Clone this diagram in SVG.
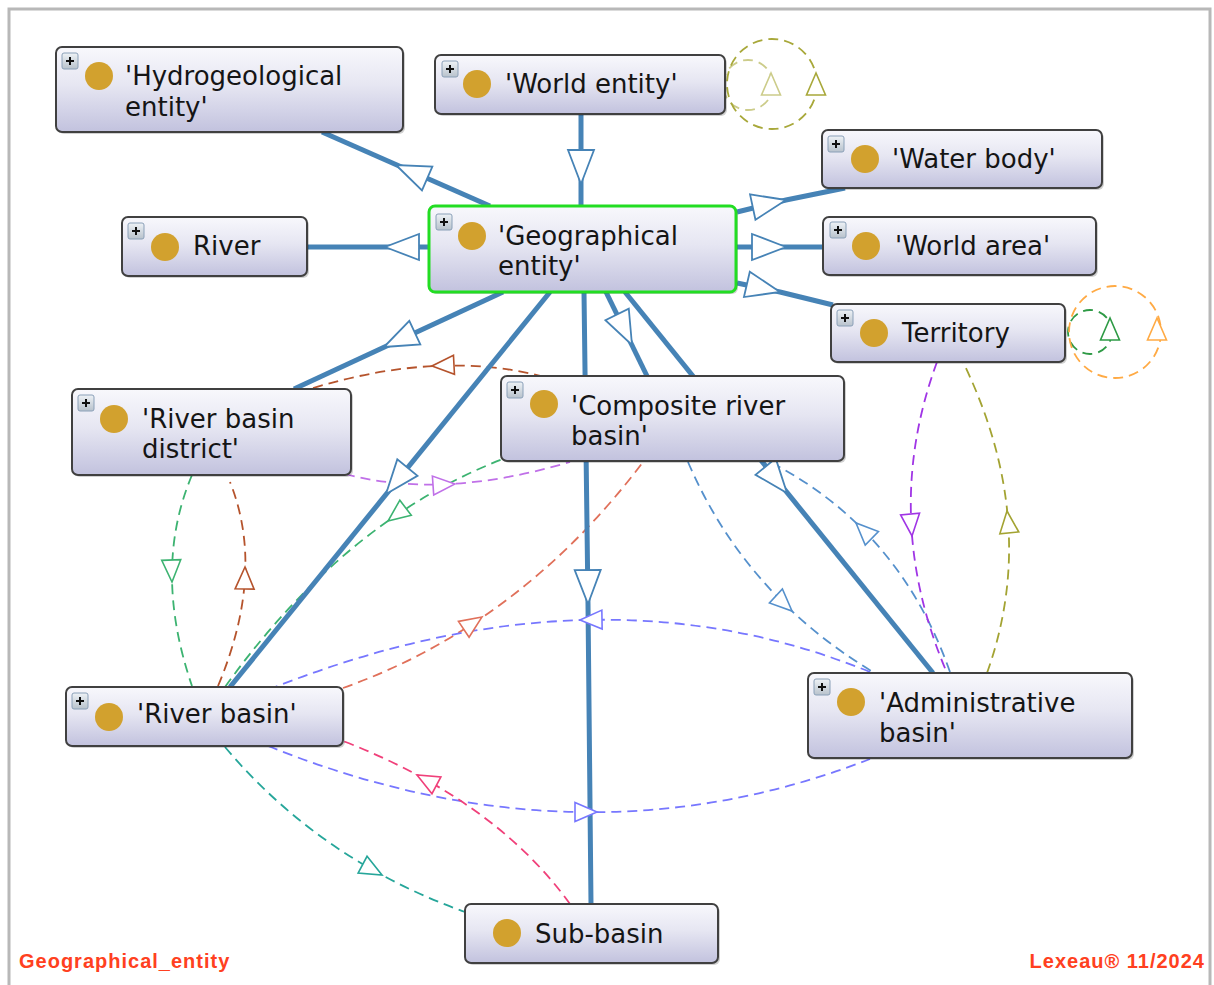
<svg xmlns="http://www.w3.org/2000/svg" xmlns:xlink="http://www.w3.org/1999/xlink" width="1214" height="985" viewBox="0 0 1214 985">
<style>
.box{fill:url(#gb);stroke:#404040;stroke-width:2}
.sel{fill:url(#gb);stroke:#22dd22;stroke-width:3}
.sh{fill:#000;opacity:.18}
.dot{fill:#d2a12e}
.lbl{font-family:"DejaVu Sans",Verdana,sans-serif;font-size:26px;fill:#151515}
.plus rect{fill:url(#gp);stroke:#8aa0b8;stroke-width:1}
.plus path{stroke:#111;stroke-width:2;fill:none}
.s{stroke:#4683b6;stroke-width:5;fill:none}
.d{fill:none;stroke-width:1.8;stroke-dasharray:10 6}
.ah{fill:#fff;stroke-width:1.6}
.ahs{fill:#fff;stroke:#4683b6;stroke-width:1.8}
.foot{font-family:"Liberation Sans",Arial,sans-serif;font-weight:bold;font-size:20px;fill:#ff4020;letter-spacing:1px}
</style>
<defs>
<linearGradient id="gb" x1="0" y1="0" x2="0" y2="1">
<stop offset="0" stop-color="#f8f8fc"/>
<stop offset="0.45" stop-color="#e6e6f2"/>
<stop offset="1" stop-color="#c2c2de"/>
</linearGradient>
<linearGradient id="gp" x1="0" y1="0" x2="0" y2="1">
<stop offset="0" stop-color="#eef2f6"/>
<stop offset="1" stop-color="#b8c2cc"/>
</linearGradient>
<path id="ts" d="M0,0 L-34,-13 L-34,13 Z"/>
<path id="td" d="M0,0 L-22,-9.5 L-22,9.5 Z"/>
</defs>
<rect x="0" y="0" width="1214" height="985" fill="#fff"/>
<rect x="9" y="9" width="1201" height="1000" fill="none" stroke="#b8b8b8" stroke-width="3"/>

<g id="connectors">
<!-- self loops -->
<circle class="d" cx="748" cy="85" r="25" stroke="#cccc8a"/>
<circle class="d" cx="772" cy="84" r="45" stroke="#a8a83a"/>
<circle class="d" cx="1090" cy="332" r="22" stroke="#2e9a45"/>
<circle class="d" cx="1115" cy="332" r="46" stroke="#ffaa44"/>
<!-- dashed property edges -->
<path class="d" stroke="#b5532c" d="M313 388 Q441 349.5 545 377"/>
<path class="d" stroke="#c070e8" d="M345 474 Q442 500 570 462"/>
<path class="d" stroke="#3cb371" d="M225 687 Q345 520 503 459"/>
<path class="d" stroke="#3cb371" d="M192 475 Q152 569.5 192 686"/>
<path class="d" stroke="#b5532c" d="M218 686 Q266 572 230 482"/>
<path class="d" stroke="#e0705a" d="M343 688 Q520 625 643 462"/>
<path class="d" stroke="#5590cc" d="M688 462 Q745 595 873 672"/>
<path class="d" stroke="#5590cc" d="M950 672 Q900 530 772 463"/>
<path class="d" stroke="#7777ff" d="M870 672 Q597.5 560.5 275 687"/>
<path class="d" stroke="#7777ff" d="M268 746 Q581 871.5 870 759"/>
<path class="d" stroke="#f0407a" d="M570 904 Q495 800 343 741"/>
<path class="d" stroke="#26a69a" d="M225 747 Q320 860 465 912"/>
<path class="d" stroke="#a035e5" d="M937 362 Q880 516.5 947 673"/>
<path class="d" stroke="#a3a332" d="M987 673 Q1041 522.5 963 362"/>
<!-- solid subclass edges -->
<path class="s" d="M490 206 L322 132"/>
<path class="s" d="M581 114 L581 206"/>
<path class="s" d="M737 212 L786 200 L845 188"/>
<path class="s" d="M737 247 L823 247"/>
<path class="s" d="M737 283 L780 292 L833 305"/>
<path class="s" d="M429 247 L307 247"/>
<path class="s" d="M503 292 L294 389"/>
<path class="s" d="M550 292 L230 687"/>
<path class="s" d="M584 292 L588 604 L591 904"/>
<path class="s" d="M606 292 L647 376"/>
<path class="s" d="M625 292 L933 673"/>
<!-- solid arrowheads -->
<use xlink:href="#ts" class="ahs" transform="translate(396,165) rotate(203.5)"/>
<use xlink:href="#ts" class="ahs" transform="translate(581,184) rotate(90)"/>
<use xlink:href="#ts" class="ahs" transform="translate(786,200) rotate(-12)"/>
<use xlink:href="#ts" class="ahs" transform="translate(786,247) rotate(0)"/>
<use xlink:href="#ts" class="ahs" transform="translate(780,292) rotate(13)"/>
<use xlink:href="#ts" class="ahs" transform="translate(385,247) rotate(180)"/>
<use xlink:href="#ts" class="ahs" transform="translate(384,347) rotate(155)"/>
<use xlink:href="#ts" class="ahs" transform="translate(386,494) rotate(129)"/>
<use xlink:href="#ts" class="ahs" transform="translate(588,604) rotate(89.5)"/>
<use xlink:href="#ts" class="ahs" transform="translate(632,345) rotate(64)"/>
<use xlink:href="#ts" class="ahs" transform="translate(787,493) rotate(51)"/>
<!-- dashed arrowheads -->
<use xlink:href="#td" class="ah" stroke="#b5532c" transform="translate(432,366) rotate(177)"/>
<use xlink:href="#td" class="ah" stroke="#c070e8" transform="translate(455,484) rotate(-4)"/>
<use xlink:href="#td" class="ah" stroke="#3cb371" transform="translate(388,521) rotate(143)"/>
<use xlink:href="#td" class="ah" stroke="#3cb371" transform="translate(172,582) rotate(88)"/>
<use xlink:href="#td" class="ah" stroke="#b5532c" transform="translate(245,567) rotate(-89)"/>
<use xlink:href="#td" class="ah" stroke="#e0705a" transform="translate(482,617) rotate(-34)"/>
<use xlink:href="#td" class="ah" stroke="#5590cc" transform="translate(792,611) rotate(43)"/>
<use xlink:href="#td" class="ah" stroke="#5590cc" transform="translate(856,523) rotate(-136)"/>
<use xlink:href="#td" class="ah" stroke="#7777ff" transform="translate(580,620) rotate(179)"/>
<use xlink:href="#td" class="ah" stroke="#7777ff" transform="translate(597,812) rotate(0)"/>
<use xlink:href="#td" class="ah" stroke="#f0407a" transform="translate(417,775) rotate(-152)"/>
<use xlink:href="#td" class="ah" stroke="#26a69a" transform="translate(382,875) rotate(28)"/>
<use xlink:href="#td" class="ah" stroke="#a035e5" transform="translate(912,536) rotate(85)"/>
<use xlink:href="#td" class="ah" stroke="#a3a332" transform="translate(1007,511) rotate(-96)"/>
<use xlink:href="#td" class="ah" stroke="#cccc8a" transform="translate(771,73) rotate(-90)"/>
<use xlink:href="#td" class="ah" stroke="#a8a83a" transform="translate(816,73) rotate(-90)"/>
<use xlink:href="#td" class="ah" stroke="#2e9a45" transform="translate(1110,318) rotate(-90)"/>
<use xlink:href="#td" class="ah" stroke="#ffaa44" transform="translate(1157,318) rotate(-90)"/>
</g>

<g id="n-hydrogeological-entity">
<rect class="sh" x="58" y="49" width="347" height="85" rx="6"/>
<rect class="box" x="56" y="47" width="347" height="85" rx="6"/>
<g class="plus" transform="translate(62,53)"><rect width="16" height="16" rx="2"/><path d="M4 8H12M8 4V12"/></g>
<circle class="dot" cx="99" cy="76" r="14"/>
<text class="lbl" x="125" y="85">'Hydrogeological</text>
<text class="lbl" x="125" y="116">entity'</text>
</g>

<g id="n-world-entity">
<rect class="sh" x="437" y="57" width="290" height="59" rx="6"/>
<rect class="box" x="435" y="55" width="290" height="59" rx="6"/>
<g class="plus" transform="translate(442,61)"><rect width="16" height="16" rx="2"/><path d="M4 8H12M8 4V12"/></g>
<circle class="dot" cx="477" cy="84" r="14"/>
<text class="lbl" x="505" y="93">'World entity'</text>
</g>

<g id="n-water-body">
<rect class="sh" x="824" y="132" width="280" height="58" rx="6"/>
<rect class="box" x="822" y="130" width="280" height="58" rx="6"/>
<g class="plus" transform="translate(828,136)"><rect width="16" height="16" rx="2"/><path d="M4 8H12M8 4V12"/></g>
<circle class="dot" cx="865" cy="159" r="14"/>
<text class="lbl" x="892" y="168">'Water body'</text>
</g>

<g id="n-world-area">
<rect class="sh" x="825" y="219" width="273" height="58" rx="6"/>
<rect class="box" x="823" y="217" width="273" height="58" rx="6"/>
<g class="plus" transform="translate(830,222)"><rect width="16" height="16" rx="2"/><path d="M4 8H12M8 4V12"/></g>
<circle class="dot" cx="866" cy="246" r="14"/>
<text class="lbl" x="895" y="255">'World area'</text>
</g>

<g id="n-territory">
<rect class="sh" x="833" y="306" width="234" height="58" rx="6"/>
<rect class="box" x="831" y="304" width="234" height="58" rx="6"/>
<g class="plus" transform="translate(837,310)"><rect width="16" height="16" rx="2"/><path d="M4 8H12M8 4V12"/></g>
<circle class="dot" cx="874" cy="333" r="14"/>
<text class="lbl" x="902" y="342">Territory</text>
</g>

<g id="n-river">
<rect class="sh" x="124" y="219" width="185" height="59" rx="6"/>
<rect class="box" x="122" y="217" width="185" height="59" rx="6"/>
<g class="plus" transform="translate(128,223)"><rect width="16" height="16" rx="2"/><path d="M4 8H12M8 4V12"/></g>
<circle class="dot" cx="165" cy="247" r="14"/>
<text class="lbl" x="193" y="255">River</text>
</g>

<g id="n-geographical-entity">
<rect class="sh" x="431" y="208" width="307" height="86" rx="6"/>
<rect class="sel" x="429" y="206" width="307" height="86" rx="6"/>
<g class="plus" transform="translate(436,214)"><rect width="16" height="16" rx="2"/><path d="M4 8H12M8 4V12"/></g>
<circle class="dot" cx="472" cy="236" r="14"/>
<text class="lbl" x="498" y="245">'Geographical</text>
<text class="lbl" x="498" y="275">entity'</text>
</g>

<g id="n-river-basin-district">
<rect class="sh" x="74" y="391" width="279" height="86" rx="6"/>
<rect class="box" x="72" y="389" width="279" height="86" rx="6"/>
<g class="plus" transform="translate(78,395)"><rect width="16" height="16" rx="2"/><path d="M4 8H12M8 4V12"/></g>
<circle class="dot" cx="114" cy="419" r="14"/>
<text class="lbl" x="142" y="428">'River basin</text>
<text class="lbl" x="142" y="458">district'</text>
</g>

<g id="n-composite-river-basin">
<rect class="sh" x="503" y="378" width="343" height="85" rx="6"/>
<rect class="box" x="501" y="376" width="343" height="85" rx="6"/>
<g class="plus" transform="translate(507,382)"><rect width="16" height="16" rx="2"/><path d="M4 8H12M8 4V12"/></g>
<circle class="dot" cx="544" cy="404" r="14"/>
<text class="lbl" x="571" y="415">'Composite river</text>
<text class="lbl" x="571" y="445">basin'</text>
</g>

<g id="n-administrative-basin">
<rect class="sh" x="810" y="675" width="324" height="85" rx="6"/>
<rect class="box" x="808" y="673" width="324" height="85" rx="6"/>
<g class="plus" transform="translate(814,679)"><rect width="16" height="16" rx="2"/><path d="M4 8H12M8 4V12"/></g>
<circle class="dot" cx="851" cy="702" r="14"/>
<text class="lbl" x="879" y="712">'Administrative</text>
<text class="lbl" x="879" y="742">basin'</text>
</g>

<g id="n-river-basin">
<rect class="sh" x="68" y="689" width="277" height="59" rx="6"/>
<rect class="box" x="66" y="687" width="277" height="59" rx="6"/>
<g class="plus" transform="translate(72,693)"><rect width="16" height="16" rx="2"/><path d="M4 8H12M8 4V12"/></g>
<circle class="dot" cx="109" cy="717" r="14"/>
<text class="lbl" x="137" y="723">'River basin'</text>
</g>

<g id="n-sub-basin">
<rect class="sh" x="467" y="906" width="253" height="59" rx="6"/>
<rect class="box" x="465" y="904" width="253" height="59" rx="6"/>
<circle class="dot" cx="507" cy="933" r="14"/>
<text class="lbl" x="535" y="943">Sub-basin</text>
</g>

<text class="foot" x="19" y="968">Geographical_entity</text>
<text class="foot" x="1205" y="968" text-anchor="end">Lexeau® 11/2024</text>
</svg>
